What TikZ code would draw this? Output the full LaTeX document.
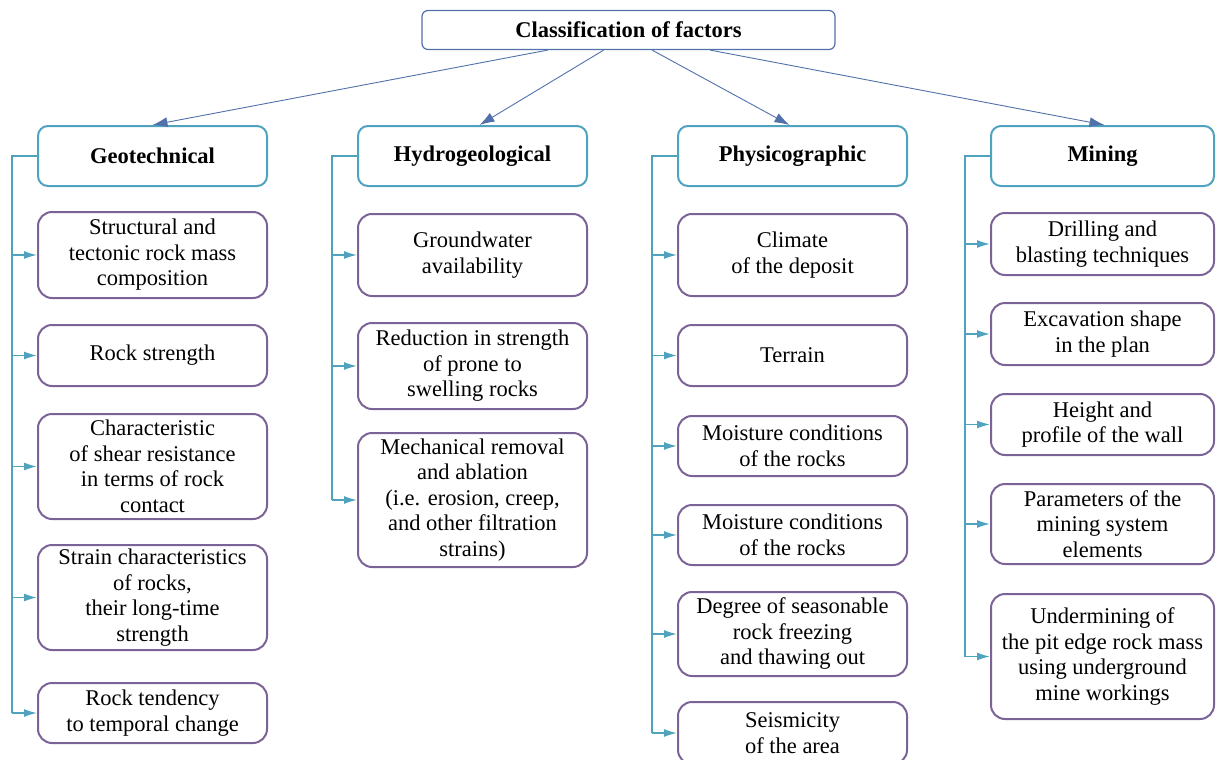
\documentclass[tikz,border=0pt]{standalone}
\usepackage{fontspec}
\setmainfont{Liberation Serif}
\usetikzlibrary{arrows.meta,positioning,calc}
\definecolor{titleblue}{HTML}{5270AA}
\definecolor{hdrteal}{HTML}{4FA3BE}
\definecolor{itempurple}{HTML}{7B6397}
\tikzset{
    x=1pt,y=-1pt,
    main/.style={draw=titleblue,rounded corners=6pt,line width=1.2pt,minimum width=413pt,minimum height=39pt,font=\fontsize{22.5}{25}\selectfont\bfseries},
    group/.style={draw=hdrteal,rounded corners=10pt,line width=2pt,minimum width=229pt,minimum height=60pt,font=\fontsize{22.5}{25}\selectfont\bfseries},
    factor/.style={draw=itempurple,rounded corners=14pt,line width=2pt,minimum width=229pt,align=center,inner sep=1pt,font=\fontsize{22.5}{25.5}\selectfont},
    topline/.style={draw=titleblue,line width=0.9pt,-{Latex[length=15pt,width=10pt]}},
    sideline/.style={draw=hdrteal,line width=1.4pt},
    sidearrow/.style={sideline,-{Latex[length=13pt,width=8pt]}}
}
\begin{document}
\begin{tikzpicture}
    \useasboundingbox (0,0) rectangle (1216,760);
    \node[main] (title) at (628.5,30) {Classification of factors};

    % groups
    \node[group] (geo) at (152.5,156) {Geotechnical};
    \node[group] (hyd) at (472.5,156) {Hydrogeological};
    \node[group] (phy) at (792.5,156) {Physicographic};
    \node[group,minimum width=223pt] (min) at (1102.5,156) {Mining};

    \draw[topline] ($(title.south west)!0.305!(title.south east)$) -- (geo.north);
    \draw[topline] ($(title.south west)!0.44!(title.south east)$) -- ([xshift=7pt]hyd.north);
    \draw[topline] ($(title.south west)!0.557!(title.south east)$) -- ([xshift=-3pt]phy.north);
    \draw[topline] ($(title.south west)!0.697!(title.south east)$) -- ([xshift=2pt]min.north);

    % geotechnical
    \node[factor,minimum height=86pt] (g1) at (152.5,255) {Structural and\\tectonic rock mass\\composition};
    \node[factor,minimum height=61pt] (g2) at (152.5,355.5) {Rock strength};
    \node[factor,minimum height=105pt] (g3) at (152.5,466.5) {Characteristic\\of shear resistance\\in terms of rock\\contact};
    \node[factor,minimum height=105pt] (g4) at (152.5,597.5) {Strain characteristics\\of rocks,\\ their long-time\\strength};
    \node[factor,minimum height=60pt] (g5) at (152.5,713) {Rock tendency\\to temporal change};
    \coordinate (gx) at (12,156);
    \draw[sideline] (geo.west) -- (gx) -- (gx |- g5.west);
    \foreach \i in {1,...,5}
        \draw[sidearrow] (gx |- g\i.west) -- (g\i.west);

    % hydrogeological
    \node[factor,minimum height=82pt] (h1) at (472.5,255) {Groundwater\\availability};
    \node[factor,minimum height=86pt] (h2) at (472.5,366) {Reduction in strength\\of prone to\\swelling rocks};
    \node[factor,minimum height=134pt] (h3) at (472.5,500) {Mechanical removal\\and ablation\\(i.e. erosion, creep,\\and other filtration\\strains)};
    \coordinate (hx) at (332,156);
    \draw[sideline] (hyd.west) -- (hx) -- (hx |- h3.west);
    \foreach \i in {1,...,3}
        \draw[sidearrow] (hx |- h\i.west) -- (h\i.west);

    % physicographic
    \node[factor,minimum height=82pt] (p1) at (792.5,255) {Climate\\of the deposit};
    \node[factor,minimum height=61pt] (p2) at (792.5,355.5) {Terrain};
    \node[factor,minimum height=60pt] (p3) at (792.5,446) {Moisture conditions\\of the rocks};
    \node[factor,minimum height=60pt] (p4) at (792.5,535) {Moisture conditions\\of the rocks};
    \node[factor,minimum height=84pt] (p5) at (792.5,634) {Degree of seasonable\\rock freezing\\and thawing out};
    \node[factor,minimum height=62pt] (p6) at (792.5,733) {Seismicity\\of the area};
    \coordinate (px) at (652,156);
    \draw[sideline] (phy.west) -- (px) -- (px |- p6.west);
    \foreach \i in {1,...,6}
        \draw[sidearrow] (px |- p\i.west) -- (p\i.west);

    % mining
    \node[factor,minimum width=223pt,minimum height=62pt] (m1) at (1102.5,244) {Drilling and\\blasting techniques};
    \node[factor,minimum width=223pt,minimum height=62pt] (m2) at (1102.5,334) {Excavation shape\\in the plan};
    \node[factor,minimum width=223pt,minimum height=61pt] (m3) at (1102.5,424.5) {Height and\\profile of the wall};
    \node[factor,minimum width=223pt,minimum height=80pt] (m4) at (1102.5,524) {Parameters of the\\mining system\\elements};
    \node[factor,minimum width=223pt,minimum height=125pt] (m5) at (1102.5,656.5) {Undermining of\\the pit edge rock mass\\using underground\\mine workings};
    \coordinate (mx) at (965,156);
    \draw[sideline] (min.west) -- (mx) -- (mx |- m5.west);
    \foreach \i in {1,...,5}
        \draw[sidearrow] (mx |- m\i.west) -- (m\i.west);
\end{tikzpicture}
\end{document}
